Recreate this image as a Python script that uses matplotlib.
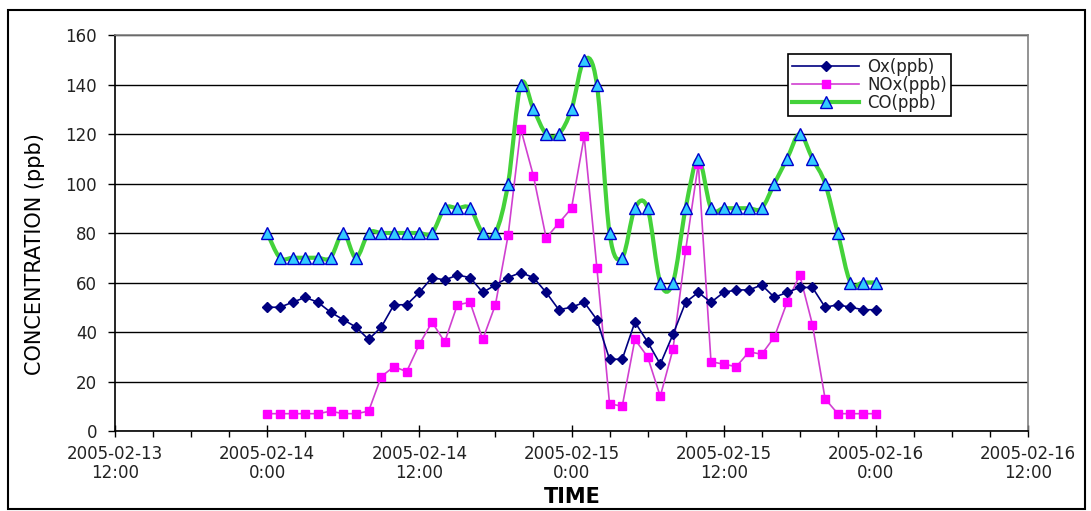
import matplotlib
matplotlib.use("Agg")
import numpy as np
import pandas as pd
import matplotlib.pyplot as plt
import matplotlib.dates as mdates
from datetime import datetime
from matplotlib.path import Path
from matplotlib.patches import PathPatch, Rectangle
from matplotlib.lines import Line2D

# hourly samples, 2005-02-14 0:00 .. 2005-02-16 0:00
times = pd.date_range("2005-02-14 00:00", periods=49, freq="h")

ox = [50, 50, 52, 54, 52, 48, 45, 42, 37, 42, 51, 51, 56, 62, 61, 63, 62,
      56, 59, 62, 64, 62, 56, 49, 50, 52, 45, 29, 29, 44, 36, 27, 39, 52,
      56, 52, 56, 57, 57, 59, 54, 56, 58, 58, 50, 51, 50, 49, 49]
nox = [7, 7, 7, 7, 7, 8, 7, 7, 8, 22, 26, 24, 35, 44, 36, 51, 52,
       37, 51, 79, 122, 103, 78, 84, 90, 119, 66, 11, 10, 37, 30, 14, 33, 73,
       108, 28, 27, 26, 32, 31, 38, 52, 63, 43, 13, 7, 7, 7, 7]
co = [80, 70, 70, 70, 70, 70, 80, 70, 80, 80, 80, 80, 80, 80, 90, 90, 90,
      80, 80, 100, 140, 130, 120, 120, 130, 150, 140, 80, 70, 90, 90, 60, 60, 90,
      110, 90, 90, 90, 90, 90, 100, 110, 120, 110, 100, 80, 60, 60, 60]

labels = ["Ox(ppb)", "NOx(ppb)", "CO(ppb)"]

OX_C = "#000080"
NOX_C = "#FF00FF"
NOX_LINE = "#D040D0"
CO_LINE = "#44D23A"
CO_FACE = "#33CCFF"
CO_EDGE = "#0000CC"
TXT = "#222222"


def smooth_path(x, y):
    # excel-like smoothed line: catmull-rom segments as cubic beziers
    pts = np.column_stack([x, y])
    ext = np.vstack([pts[0], pts, pts[-1]])
    verts = [pts[0]]
    codes = [Path.MOVETO]
    for i in range(len(pts) - 1):
        p0, p1, p2, p3 = ext[i], ext[i + 1], ext[i + 2], ext[i + 3]
        verts += [p1 + (p2 - p0) / 6.0, p2 - (p3 - p1) / 6.0, p2]
        codes += [Path.CURVE4] * 3
    return Path(verts, codes)


fig = plt.figure(figsize=(10.91, 5.11), dpi=100)
ax = fig.add_axes([115 / 1091, 1 - 431 / 511, 913 / 1091, 396 / 511])

xn = mdates.date2num(times.to_pydatetime())

ax.plot(xn, ox, color=OX_C, lw=1.2, marker="D", ms=5.5, mfc=OX_C, mec=OX_C, zorder=4)
ax.plot(xn, nox, color=NOX_LINE, lw=1.2, marker="s", ms=6, mfc=NOX_C, mec=NOX_C, zorder=3)
ax.add_patch(PathPatch(smooth_path(xn, co), fill=False, ec=CO_LINE, lw=3, zorder=2))
ax.plot(xn, co, ls="none", marker="^", ms=8, mfc=CO_FACE, mec=CO_EDGE, mew=1, zorder=5)

ax.set_xlim(datetime(2005, 2, 13, 12), datetime(2005, 2, 16, 12))
ax.set_ylim(0, 160)
ax.set_yticks(range(0, 161, 20))

ax.xaxis.set_major_locator(mdates.HourLocator(byhour=[0, 12]))
ax.xaxis.set_minor_locator(mdates.HourLocator(byhour=range(0, 24, 3)))


def fmt(v, pos=None):
    d = mdates.num2date(v)
    return f"{d:%Y-%m-%d}\n{d.hour}:{d:%M}"


ax.xaxis.set_major_formatter(plt.FuncFormatter(fmt))

ax.grid(axis="y", color="black", lw=1)
ax.set_axisbelow(True)

for s in ["top", "right"]:
    ax.spines[s].set_color("#808080")
    ax.spines[s].set_linewidth(1.2)
for s in ["left", "bottom"]:
    ax.spines[s].set_color("black")
    ax.spines[s].set_linewidth(1.2)

ax.tick_params(axis="y", direction="out", length=5, width=1, pad=8,
               labelsize=12, labelcolor=TXT, right=False)
ax.tick_params(axis="x", which="major", direction="inout", length=8, width=1,
               pad=6, labelsize=12, labelcolor=TXT)
ax.tick_params(axis="x", which="minor", direction="out", length=4, width=1)

fig.canvas.draw()
for lbl in ax.get_xticklabels():
    lbl.set_linespacing(1.1)

fig.text(35 / 1091, 1 - 254 / 511, "CONCENTRATION (ppb)", rotation=90,
         ha="center", va="center", fontsize=15)
fig.text(572 / 1091, 1 - 497 / 511, "TIME", ha="center", va="center",
         fontsize=15, fontweight="bold")

handles = [
    Line2D([], [], color=OX_C, lw=1.2, marker="D", ms=5.5, mfc=OX_C, mec=OX_C),
    Line2D([], [], color=NOX_LINE, lw=1.2, marker="s", ms=6, mfc=NOX_C, mec=NOX_C),
    Line2D([], [], color=CO_LINE, lw=3, marker="^", ms=8, mfc=CO_FACE, mec=CO_EDGE),
]
leg = fig.legend(handles, labels, loc="upper left",
                 bbox_to_anchor=(788 / 1091, 1 - 54 / 511),
                 bbox_transform=fig.transFigure, borderaxespad=0,
                 fontsize=12, handlelength=4.0, labelspacing=0.0,
                 borderpad=0.25, handletextpad=0.5, fancybox=False,
                 framealpha=1, edgecolor="black")
leg.get_frame().set_linewidth(1.2)
for t in leg.get_texts():
    t.set_color(TXT)

fig.patches.append(Rectangle((8 / 1091, 2 / 511), 1077 / 1091, 499 / 511,
                             transform=fig.transFigure, fill=False,
                             ec="black", lw=1.5))

fig.savefig("out.png", dpi=100)
